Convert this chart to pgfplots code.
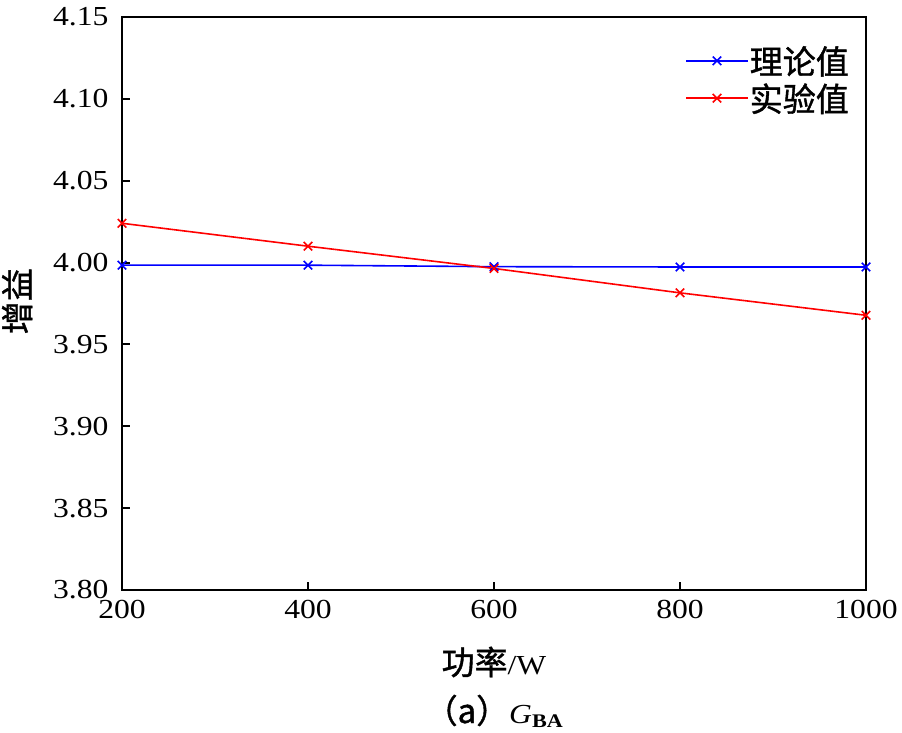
\documentclass[border=0pt]{standalone}
\usepackage{fontspec}
\setmainfont{Liberation Serif}[FakeStretch=1.15]
\newfontfamily\cjkf{Noto Sans CJK SC}[FakeBold=1.2]
\newcommand\cjk{\cjkf\fontsize{33bp}{38bp}\selectfont}
\usepackage{pgfplots}
\pgfplotsset{compat=1.18}
\begin{document}
\begin{tikzpicture}[font=\fontsize{27.5bp}{33bp}\selectfont]
\path[use as bounding box] (-122bp,-143bp) rectangle (780bp,590bp);
\begin{axis}[
  at={(0,0)}, anchor=south west,
  scale only axis, width=744bp, height=573bp,
  xmin=200, xmax=1000, ymin=3.80, ymax=4.15,
  xtick={200,400,600,800,1000},
  ytick={3.80,3.85,3.90,3.95,4.00,4.05,4.10,4.15},
  xtick pos=bottom, ytick pos=left,
  tick align=inside, major tick length=8bp,
  axis line style={line width=2bp},
  every tick/.style={line width=2bp, black},
  /pgf/number format/assume math mode=true,
  ticklabel style={font=\fontsize{27.5bp}{33bp}\selectfont},
  yticklabel style={/pgf/number format/fixed, /pgf/number format/fixed zerofill, /pgf/number format/precision=2, xshift=-10bp},
  xticklabel style={/pgf/number format/1000 sep={}, yshift=-7bp},
  scaled y ticks=false,
  xlabel={\cjk 功率\fontsize{27.5bp}{33bp}\rmfamily\selectfont /W},
  ylabel={\cjk 增益},
  xlabel style={at={(axis description cs:0.5,0)}, anchor=center, yshift=-72bp},
  ylabel style={at={(axis description cs:-0.141,0.504)}, anchor=center},
  legend style={draw=none, fill=none, at={(1,1)}, anchor=north east, xshift=-16bp, yshift=-28bp,
    font=\cjk, row sep=6bp, inner sep=0pt,
    nodes={inner sep=1bp}},
  legend cell align=left,
  legend image code/.code={
    \draw[line width=1.6bp, mark repeat=2,mark phase=2] plot coordinates {(0bp,0bp) (31bp,0bp) (62bp,0bp)};
  },
]
\addplot[color={rgb,255:red,0;green,0;blue,255}, line width=1.6bp, mark=x, mark size=6bp, mark options={line width=1.6bp}] coordinates {
  (200,3.9984) (400,3.9984) (600,3.9975) (800,3.9973) (1000,3.9973)
};
\addlegendentry{理论值}
\addplot[color={rgb,255:red,255;green,0;blue,0}, line width=1.6bp, mark=x, mark size=6bp, mark options={line width=1.6bp}] coordinates {
  (200,4.0240) (400,4.0100) (600,3.9964) (800,3.9815) (1000,3.9678)
};
\addlegendentry{实验值}
\end{axis}
\node[anchor=center] at (372bp,-121bp) {\cjk （a）\fontsize{27.5bp}{33bp}\rmfamily\selectfont\itshape G\textsubscript{\upshape\bfseries BA}};
\end{tikzpicture}
\end{document}
